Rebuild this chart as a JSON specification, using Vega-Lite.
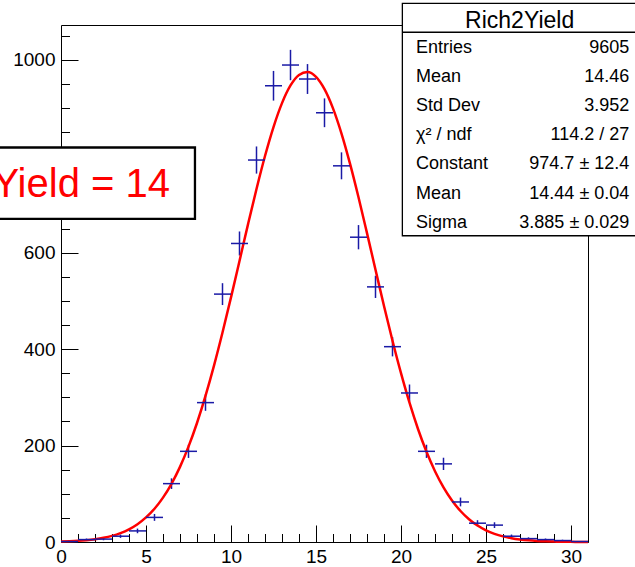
{
  "$schema": "https://vega.github.io/schema/vega-lite/v6.json",
  "width": 527,
  "height": 517,
  "autosize": {"type": "none"},
  "padding": {"left": 61, "top": 25, "right": 47, "bottom": 25},
  "background": "white",
  "config": {
    "font": "Liberation Sans",
    "view": {"stroke": "#000", "strokeWidth": 1},
    "axis": {"grid": false, "domain": false, "tickColor": "#000", "tickWidth": 1, "labelColor": "#000", "labelFont": "Liberation Sans", "labelFontSize": 19, "labelFlush": false, "labelOverlap": false, "format": "d"}
  },
  "datasets": {
    "bins": [
      {"lo": 0, "hi": 1, "center": 0.5, "count": 1, "err": 1},
      {"lo": 1, "hi": 2, "center": 1.5, "count": 5, "err": 2.236},
      {"lo": 2, "hi": 3, "center": 2.5, "count": 6, "err": 2.449},
      {"lo": 3, "hi": 4, "center": 3.5, "count": 12, "err": 3.464},
      {"lo": 4, "hi": 5, "center": 4.5, "count": 23, "err": 4.796},
      {"lo": 5, "hi": 6, "center": 5.5, "count": 51, "err": 7.141},
      {"lo": 6, "hi": 7, "center": 6.5, "count": 121, "err": 11.0},
      {"lo": 7, "hi": 8, "center": 7.5, "count": 188, "err": 13.71},
      {"lo": 8, "hi": 9, "center": 8.5, "count": 289, "err": 17.0},
      {"lo": 9, "hi": 10, "center": 9.5, "count": 514, "err": 22.67},
      {"lo": 10, "hi": 11, "center": 10.5, "count": 619, "err": 24.88},
      {"lo": 11, "hi": 12, "center": 11.5, "count": 792, "err": 28.14},
      {"lo": 12, "hi": 13, "center": 12.5, "count": 946, "err": 30.76},
      {"lo": 13, "hi": 14, "center": 13.5, "count": 989, "err": 31.45},
      {"lo": 14, "hi": 15, "center": 14.5, "count": 960, "err": 30.98},
      {"lo": 15, "hi": 16, "center": 15.5, "count": 890, "err": 29.83},
      {"lo": 16, "hi": 17, "center": 16.5, "count": 780, "err": 27.93},
      {"lo": 17, "hi": 18, "center": 17.5, "count": 632, "err": 25.14},
      {"lo": 18, "hi": 19, "center": 18.5, "count": 529, "err": 23.0},
      {"lo": 19, "hi": 20, "center": 19.5, "count": 405, "err": 20.12},
      {"lo": 20, "hi": 21, "center": 20.5, "count": 309, "err": 17.58},
      {"lo": 21, "hi": 22, "center": 21.5, "count": 188, "err": 13.71},
      {"lo": 22, "hi": 23, "center": 22.5, "count": 162, "err": 12.73},
      {"lo": 23, "hi": 24, "center": 23.5, "count": 83, "err": 9.11},
      {"lo": 24, "hi": 25, "center": 24.5, "count": 39, "err": 6.245},
      {"lo": 25, "hi": 26, "center": 25.5, "count": 35, "err": 5.916},
      {"lo": 26, "hi": 27, "center": 26.5, "count": 12, "err": 3.464},
      {"lo": 27, "hi": 28, "center": 27.5, "count": 7, "err": 2.646},
      {"lo": 28, "hi": 29, "center": 28.5, "count": 5, "err": 2.236},
      {"lo": 29, "hi": 30, "center": 29.5, "count": 3, "err": 1.732},
      {"lo": 30, "hi": 31, "center": 30.5, "count": 1, "err": 1}
    ],
    "fit": [
      {"x": 0, "f": 0.98}, {"x": 0.5, "f": 1.56}, {"x": 1, "f": 2.45}, {"x": 1.5, "f": 3.8},
      {"x": 2, "f": 5.79}, {"x": 2.5, "f": 8.67}, {"x": 3, "f": 12.77}, {"x": 3.5, "f": 18.5},
      {"x": 4, "f": 26.36}, {"x": 4.5, "f": 36.94}, {"x": 5, "f": 50.91}, {"x": 5.5, "f": 69.04},
      {"x": 6, "f": 92.07}, {"x": 6.5, "f": 120.74}, {"x": 7, "f": 155.78}, {"x": 7.5, "f": 197.69},
      {"x": 8, "f": 246.73}, {"x": 8.5, "f": 302.9}, {"x": 9, "f": 365.7}, {"x": 9.5, "f": 434.3},
      {"x": 10, "f": 507.3}, {"x": 10.5, "f": 582.8}, {"x": 11, "f": 658.6}, {"x": 11.5, "f": 732.0},
      {"x": 12, "f": 800.3}, {"x": 12.5, "f": 860.4}, {"x": 13, "f": 910.0}, {"x": 13.5, "f": 946.6},
      {"x": 14, "f": 968.5}, {"x": 14.5, "f": 974.6}, {"x": 15, "f": 964.6}, {"x": 15.5, "f": 939.1},
      {"x": 16, "f": 899.2}, {"x": 16.5, "f": 846.9}, {"x": 17, "f": 784.5}, {"x": 17.5, "f": 714.8},
      {"x": 18, "f": 640.5}, {"x": 18.5, "f": 564.6}, {"x": 19, "f": 489.4}, {"x": 19.5, "f": 417.3},
      {"x": 20, "f": 350.1}, {"x": 20.5, "f": 288.8}, {"x": 21, "f": 234.3}, {"x": 21.5, "f": 187.0},
      {"x": 22, "f": 146.8}, {"x": 22.5, "f": 113.3}, {"x": 23, "f": 86.06}, {"x": 23.5, "f": 64.27},
      {"x": 24, "f": 47.21}, {"x": 24.5, "f": 34.1}, {"x": 25, "f": 24.24}, {"x": 25.5, "f": 16.95},
      {"x": 26, "f": 11.65}, {"x": 26.5, "f": 7.88}, {"x": 27, "f": 5.24}, {"x": 27.5, "f": 3.43},
      {"x": 28, "f": 2.2}, {"x": 28.5, "f": 1.39}, {"x": 29, "f": 0.87}, {"x": 29.5, "f": 0.53},
      {"x": 30, "f": 0.32}, {"x": 30.5, "f": 0.19}, {"x": 31, "f": 0.11}
    ],
    "stats": [
      {"row": 1, "name": "Entries", "value": "9605"},
      {"row": 2, "name": "Mean", "value": "14.46"},
      {"row": 3, "name": "Std Dev", "value": "3.952"},
      {"row": 4, "name": "χ² / ndf", "value": "114.2 / 27"},
      {"row": 5, "name": "Constant", "value": "974.7 ± 12.4"},
      {"row": 6, "name": "Mean", "value": "14.44 ± 0.04"},
      {"row": 7, "name": "Sigma", "value": "3.885 ± 0.029"}
    ]
  },
  "layer": [
    {
      "layer": [
        {
          "data": {"name": "bins"},
          "mark": {"type": "errorbar", "ticks": false, "color": "#1a1aa6", "thickness": 1.5},
          "encoding": {
            "x": {"field": "center", "type": "quantitative", "title": null,
              "scale": {"domain": [0, 31], "nice": false, "zero": false},
              "axis": {"orient": "bottom", "values": [0, 5, 10, 15, 20, 25, 30], "tickSize": -17, "labelPadding": 22, "title": null}},
            "y": {"field": "count", "type": "quantitative", "title": null,
              "scale": {"domain": [0, 1072], "nice": false},
              "axis": {"orient": "left", "values": [0, 200, 400, 600, 800, 1000], "tickSize": -17, "labelPadding": 23, "title": null}},
            "yError": {"field": "err"}
          }
        },
        {
          "data": {"name": "fit"},
          "mark": {"type": "line", "color": "#ff0000", "strokeWidth": 2.5, "interpolate": "monotone"},
          "encoding": {
            "x": {"field": "x", "type": "quantitative", "title": null},
            "y": {"field": "f", "type": "quantitative", "title": null}
          }
        },
        {
          "data": {"values": [{}]},
          "mark": {"type": "rect", "fill": "white", "stroke": "#000", "strokeWidth": 2.3},
          "encoding": {
            "x": {"datum": -5}, "x2": {"datum": 7.88},
            "y": {"datum": 818}, "y2": {"datum": 670}
          }
        },
        {
          "data": {"values": [{"label": "Yield = 14"}]},
          "mark": {"type": "text", "color": "#ff0000", "fontSize": 40, "align": "right", "baseline": "alphabetic", "font": "Liberation Sans"},
          "encoding": {
            "x": {"datum": 6.41}, "y": {"datum": 715},
            "text": {"field": "label"}
          }
        },
        {
          "data": {"values": [{}]},
          "mark": {"type": "rect", "fill": "white", "stroke": "#000", "strokeWidth": 1.3},
          "encoding": {
            "x": {"datum": 20.08}, "x2": {"datum": 35},
            "y": {"datum": 1117}, "y2": {"datum": 635}
          }
        },
        {
          "data": {"values": [{}]},
          "mark": {"type": "rule", "stroke": "#000", "strokeWidth": 1.3},
          "encoding": {
            "x": {"datum": 20.08}, "x2": {"datum": 35},
            "y": {"datum": 1057}
          }
        },
        {
          "data": {"values": [{"title": "Rich2Yield"}]},
          "mark": {"type": "text", "color": "#000", "fontSize": 23, "align": "center", "baseline": "alphabetic"},
          "encoding": {
            "x": {"datum": 26.98}, "y": {"datum": 1065},
            "text": {"field": "title"}
          }
        }
      ]
    },
    {
      "data": {"name": "bins"},
      "mark": {"type": "rule", "color": "#1a1aa6", "strokeWidth": 1.5},
      "encoding": {
        "x": {"field": "lo", "type": "quantitative", "title": null,
          "scale": {"domain": [0, 31], "nice": false, "zero": false},
          "axis": {"orient": "bottom", "values": [0, 1, 2, 3, 4, 5, 6, 7, 8, 9, 10, 11, 12, 13, 14, 15, 16, 17, 18, 19, 20, 21, 22, 23, 24, 25, 26, 27, 28, 29, 30, 31], "tickSize": -8.5, "labels": false, "title": null}},
        "x2": {"field": "hi"},
        "y": {"field": "count", "type": "quantitative", "title": null,
          "scale": {"domain": [0, 1072], "nice": false},
          "axis": {"orient": "left", "values": [0, 50, 100, 150, 200, 250, 300, 350, 400, 450, 500, 550, 600, 650, 700, 750, 800, 850, 900, 950, 1000, 1050], "tickSize": -8.5, "labels": false, "title": null}}
      }
    },
    {
      "data": {"name": "stats"},
      "layer": [
        {
          "mark": {"type": "text", "color": "#000", "fontSize": 18, "align": "left", "baseline": "alphabetic"},
          "encoding": {
            "x": {"datum": 20.88, "axis": null},
            "y": {"field": "row", "type": "quantitative", "axis": null,
              "scale": {"domain": [0.026, 17.823], "reverse": true, "nice": false, "zero": false}},
            "text": {"field": "name"}
          }
        },
        {
          "mark": {"type": "text", "color": "#000", "fontSize": 18, "align": "right", "baseline": "alphabetic"},
          "encoding": {
            "x": {"datum": 33.43, "axis": null},
            "y": {"field": "row", "type": "quantitative", "axis": null},
            "text": {"field": "value"}
          }
        }
      ]
    }
  ],
  "resolve": {
    "scale": {"y": "independent"},
    "axis": {"x": "independent", "y": "independent"}
  }
}
